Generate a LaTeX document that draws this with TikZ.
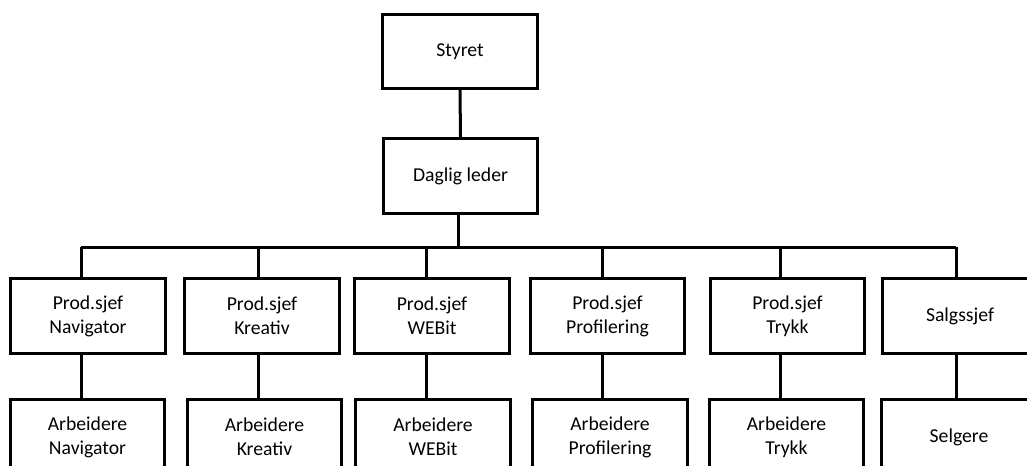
\documentclass[tikz,border=0pt]{standalone}
\usepackage{fontspec}
\setmainfont{Carlito}
\usetikzlibrary{calc}

\begin{document}
\begin{tikzpicture}[x=0.025cm, y=-0.025cm,
	boks/.style={draw, line width=0.075cm, minimum width=3.85cm, minimum height=1.85cm, align=center, font=\fontsize{14}{17}\selectfont, inner sep=0pt},
	linje/.style={line width=0.075cm}]
	\useasboundingbox (0,0) rectangle (1027,466);
	\clip (0,0) rectangle (1027,466);
	
	\node[boks] (styret) at (460,51.5) {Styret};
	\node[boks] (leder) at (460.5,176) {Daglig leder};
	
	\node[boks] (p1) at (88,316) {Prod.sjef\\Navigator};
	\node[boks] (p2) at (262,316) {Prod.sjef\\Kreativ};
	\node[boks] (p3) at (432,316) {Prod.sjef\\WEBit};
	\node[boks] (p4) at (607.5,316) {Prod.sjef\\Profilering};
	\node[boks] (p5) at (787.5,316) {Prod.sjef\\Trykk};
	\node[boks] (p6) at (960,316) {Salgssjef};
	
	\node[boks] (a1) at (87.5,437) {Arbeidere\\Navigator};
	\node[boks] (a2) at (264.5,437) {Arbeidere\\Kreativ};
	\node[boks] (a3) at (433,437) {Arbeidere\\WEBit};
	\node[boks] (a4) at (610,437) {Arbeidere\\Profilering};
	\node[boks] (a5) at (786.5,437) {Arbeidere\\Trykk};
	\node[boks] (a6) at (959,437) {Selgere};
	
	% samleskinne
	\coordinate (d1) at (81,247);
	\coordinate (d2) at (258,247);
	\coordinate (d3) at (426,247);
	\coordinate (d4) at (602,247);
	\coordinate (d5) at (780,247);
	\coordinate (d6) at (956,247);
	\coordinate (top) at (458,247);
	
	\draw[linje] (styret.south) -- (leder.north);
	\draw[linje] (top |- leder.south) -- (top);
	\draw[linje] (d1) -- (d6);
	\foreach \i in {1,...,6}
	{
		\draw[linje] (d\i) -- (d\i |- p\i.north);
		\draw[linje] (d\i |- p\i.south) -- (d\i |- a\i.north);
	}
	
\end{tikzpicture}
\end{document}
